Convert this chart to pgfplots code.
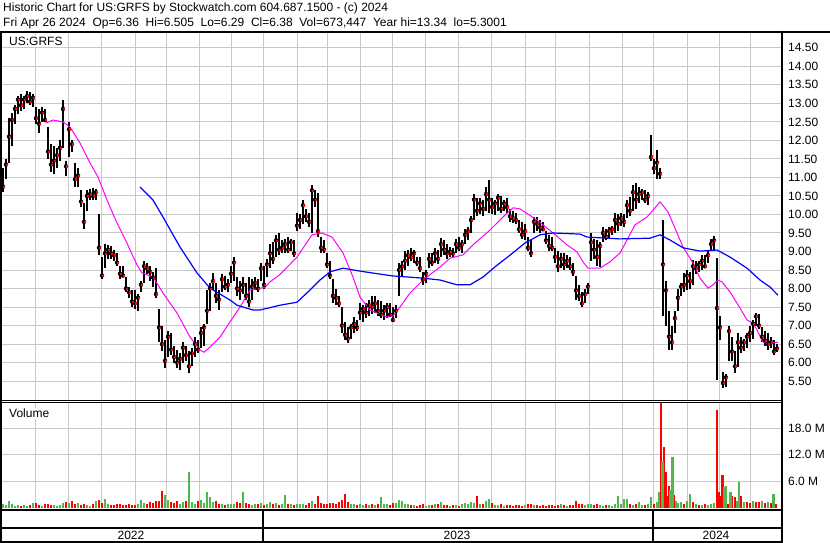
\documentclass[border=0pt]{standalone}
\usepackage{pgfplots}
\pgfplotsset{compat=1.18}
\usepackage{pgfplotstable}
\usepackage{fontspec}
\setmainfont{Liberation Sans}

\definecolor{gridgray}{RGB}{200,200,200}
\definecolor{volred}{RGB}{255,0,0}
\definecolor{volgreen}{RGB}{77,185,77}
\definecolor{mamag}{RGB}{255,0,255}
\definecolor{mablue}{RGB}{0,0,255}

% daily bars, sampled every 3 px of the chart: position, low, high, close
\pgfplotstableread{
x lo hi cl
3 10.60 11.25 10.75
6 10.95 11.50 11.35
9 11.40 12.60 12.10
12 11.85 12.75 12.55
15 12.45 12.95 12.85
18 12.70 13.20 13.10
21 12.80 13.25 12.95
24 12.85 13.20 13.10
27 13.00 13.34 13.20
30 12.95 13.30 13.05
33 12.90 13.25 13.15
36 12.45 12.90 12.60
39 12.20 12.85 12.45
42 12.50 12.90 12.75
45 12.50 12.85 12.55
48 11.50 12.35 11.70
51 11.15 11.90 11.35
54 11.10 11.85 11.45
57 11.25 11.80 11.60
60 11.45 12.00 11.80
63 11.80 13.10 12.85
66 11.05 11.45 11.30
69 11.55 12.50 12.30
72 11.70 12.00 11.90
75 10.75 11.40 10.95
78 10.75 11.25 11.05
81 10.20 10.65 10.35
84 9.60 10.30 9.80
87 10.10 10.65 10.50
90 10.40 10.70 10.55
93 10.40 10.72 10.50
96 10.40 10.70 10.60
99 8.90 10.00 9.10
102 8.25 8.85 8.35
105 8.55 9.20 8.95
108 8.80 9.18 9.05
111 8.80 9.15 8.95
114 8.75 9.05 8.90
117 8.60 8.95 8.70
120 8.25 8.60 8.40
123 8.30 8.60 8.35
126 7.90 8.30 8.00
129 7.75 8.05 7.90
132 7.50 7.95 7.65
135 7.45 7.95 7.60
138 7.40 7.85 7.75
141 7.90 8.20 8.10
144 8.15 8.75 8.60
147 8.40 8.70 8.55
150 8.20 8.60 8.45
153 8.05 8.45 8.30
156 7.75 8.55 7.85
159 6.55 7.45 6.95
162 6.30 7.00 6.50
165 5.85 6.60 6.05
168 6.15 6.85 6.70
171 6.20 6.80 6.35
174 6.00 6.45 6.15
177 5.85 6.35 6.00
180 5.80 6.25 6.10
183 6.00 6.55 6.40
186 6.05 6.45 6.20
189 5.72 6.30 5.90
192 5.90 6.40 6.25
195 6.15 6.70 6.50
198 6.25 6.60 6.35
201 6.40 6.95 6.80
204 6.45 7.05 6.95
207 7.05 7.95 7.40
210 7.40 8.15 8.00
213 7.95 8.42 8.20
216 7.60 8.15 7.80
219 7.42 7.95 7.70
222 7.90 8.40 8.25
225 7.95 8.35 8.05
228 7.90 8.25 8.10
231 8.15 8.60 8.40
234 8.20 8.85 8.70
237 7.80 8.30 8.00
240 7.70 8.20 7.95
243 7.85 8.30 8.10
246 7.70 8.15 7.80
249 7.50 8.30 7.65
252 7.70 8.25 8.05
255 7.95 8.30 8.15
258 7.90 8.25 8.00
261 8.20 8.70 8.55
264 8.00 8.60 8.10
267 8.30 8.80 8.65
270 8.55 9.20 8.95
273 8.65 9.25 8.80
276 8.85 9.45 9.30
279 8.90 9.50 9.05
282 8.95 9.30 9.10
285 8.95 9.35 9.20
288 8.95 9.40 9.05
291 9.00 9.35 9.25
294 8.85 9.30 8.95
297 9.55 10.05 9.70
300 9.60 10.00 9.85
303 9.75 10.40 10.25
306 9.80 10.15 9.95
309 9.65 10.05 9.80
312 9.50 10.80 10.65
315 10.20 10.65 10.40
318 9.40 10.58 9.55
321 8.95 9.40 9.10
324 8.95 9.30 9.05
327 8.55 8.95 8.65
330 8.25 8.75 8.35
333 7.60 8.25 7.80
336 7.55 8.00 7.75
339 7.50 7.80 7.60
342 6.80 7.50 7.00
345 6.60 7.10 6.75
348 6.53 6.95 6.65
351 6.65 7.05 6.95
354 6.80 7.23 7.05
357 6.85 7.15 6.95
360 7.15 7.60 7.35
363 7.10 7.55 7.45
366 7.20 7.60 7.35
369 7.25 7.70 7.55
372 7.30 7.80 7.50
375 7.35 7.80 7.60
378 7.25 7.70 7.40
381 7.20 7.65 7.30
384 7.15 7.55 7.40
387 7.20 7.60 7.50
390 7.25 7.60 7.30
393 7.10 7.50 7.15
396 7.20 7.55 7.40
399 7.80 8.70 8.50
402 8.30 8.75 8.60
405 8.50 9.00 8.75
408 8.60 9.05 8.90
411 8.75 9.10 8.85
414 8.70 9.05 8.95
417 8.60 8.85 8.70
420 8.45 8.85 8.55
423 8.10 8.45 8.25
426 8.15 8.50 8.40
429 8.55 8.95 8.80
432 8.60 8.95 8.70
435 8.70 9.10 8.95
438 8.65 9.05 8.80
441 8.85 9.36 9.20
444 8.90 9.30 9.05
447 8.80 9.20 8.95
450 8.85 9.12 9.00
453 8.85 9.10 8.95
456 8.95 9.35 9.20
459 9.00 9.40 9.10
462 8.96 9.30 9.20
465 9.20 9.60 9.45
468 9.30 9.66 9.55
471 9.50 9.95 9.85
474 9.85 10.55 10.40
477 9.95 10.45 10.10
480 10.00 10.45 10.30
483 9.95 10.40 10.15
486 10.10 10.75 10.55
489 10.05 10.93 10.40
492 10.00 10.45 10.20
495 9.98 10.40 10.30
498 10.10 10.55 10.45
501 10.05 10.50 10.15
504 10.10 10.40 10.30
507 10.05 10.45 10.20
510 9.80 10.15 9.95
513 9.78 10.10 9.90
516 9.75 10.05 9.85
519 9.50 9.85 9.60
522 9.35 9.80 9.45
525 9.30 9.75 9.55
528 9.00 9.40 9.10
531 8.85 9.30 8.95
534 9.50 9.93 9.80
537 9.55 9.93 9.75
540 9.50 9.85 9.65
543 9.55 9.80 9.60
546 9.20 9.55 9.30
549 9.00 9.45 9.15
552 9.00 9.40 9.10
555 8.70 9.10 8.85
558 8.45 9.00 8.60
561 8.55 8.95 8.80
564 8.50 8.96 8.65
567 8.55 8.90 8.75
570 8.50 8.85 8.60
573 8.35 8.70 8.45
576 7.70 8.35 7.95
579 7.65 8.10 7.80
582 7.50 7.90 7.60
585 7.60 8.00 7.85
588 7.85 8.15 8.05
591 8.75 9.50 9.25
594 8.80 9.35 9.05
597 8.60 9.30 8.85
600 8.58 9.25 9.15
603 9.25 9.65 9.50
606 9.30 9.60 9.40
609 9.35 9.66 9.55
612 9.45 9.70 9.60
615 9.50 10.04 9.85
618 9.55 10.00 9.75
621 9.70 10.04 9.90
624 9.66 10.00 9.80
627 9.90 10.40 10.25
630 9.95 10.47 10.10
633 10.10 10.80 10.60
636 10.15 10.85 10.40
639 10.30 10.75 10.55
642 10.40 10.70 10.60
645 10.30 10.65 10.40
648 10.25 10.60 10.50
651 11.45 12.15 11.55
654 11.10 11.50 11.25
657 10.95 11.75 11.40
660 10.95 11.25 11.10
663 7.25 9.85 8.65
666 7.00 8.20 7.95
669 6.35 7.40 6.70
672 6.34 7.00 6.55
675 6.80 7.40 7.20
678 7.40 8.00 7.75
681 7.80 8.15 8.05
684 7.90 8.42 8.10
687 7.95 8.50 8.35
690 8.00 8.45 8.20
693 8.10 8.77 8.60
696 8.40 8.75 8.55
699 8.45 8.75 8.65
702 8.50 8.90 8.75
705 8.55 8.90 8.60
708 8.70 9.00 8.90
711 9.00 9.35 9.20
714 9.05 9.42 9.30
717 5.52 8.82 7.47
720 6.60 7.25 6.95
723 5.31 5.75 5.45
726 5.35 5.70 5.60
729 6.05 7.00 6.85
732 6.05 6.70 6.30
735 5.72 6.30 5.90
738 5.88 6.80 6.55
741 6.25 6.70 6.40
744 6.30 6.65 6.55
747 6.40 6.80 6.70
750 6.55 7.00 6.80
753 6.65 7.15 7.05
756 7.00 7.34 7.25
759 6.90 7.30 7.00
762 6.55 6.96 6.70
765 6.45 6.85 6.60
768 6.35 6.80 6.50
771 6.40 6.70 6.55
774 6.20 6.60 6.30
777 6.29 6.50 6.38
}\price

% volume in millions, g=1 green (up), g=0 red (down)
\pgfplotstableread{
x v g
3 0.9 1
6 0.6 1
9 1.6 1
12 0.8 1
15 0.5 1
18 0.7 1
21 0.4 0
24 0.6 1
27 0.5 1
30 0.7 0
33 1.1 1
36 1.2 0
39 0.6 0
42 0.5 1
45 0.8 0
48 1.0 0
51 0.6 0
54 0.7 1
57 0.5 1
60 0.6 1
63 1.1 1
66 1.3 0
69 1.2 1
72 1.6 0
75 0.9 0
78 1.2 1
81 0.7 0
84 1.0 0
87 0.6 1
90 0.5 1
93 0.8 0
96 1.6 1
99 1.7 0
102 1.2 0
105 2.0 1
108 0.9 1
111 0.7 0
114 0.6 0
117 0.9 0
120 1.0 0
123 0.7 0
126 0.6 0
129 0.9 0
132 0.7 0
135 0.6 0
138 1.0 1
141 1.9 1
144 1.2 1
147 1.0 0
150 1.3 0
153 1.1 0
156 1.5 0
159 1.6 0
162 3.9 0
165 2.9 1
168 1.7 1
171 1.3 0
174 1.2 0
177 1.5 0
180 1.0 1
183 1.4 1
186 1.6 0
189 8.1 1
192 1.3 1
195 1.0 1
198 1.5 0
201 1.8 1
204 1.2 1
207 3.5 1
210 2.5 1
213 1.4 1
216 1.6 0
219 1.0 0
222 0.9 1
225 0.7 0
228 0.9 1
231 0.8 1
234 1.0 1
237 1.3 0
240 1.1 0
243 3.7 1
246 1.2 0
249 0.8 0
252 0.6 1
255 0.9 1
258 0.8 0
261 1.1 1
264 0.7 0
267 1.0 1
270 1.3 1
273 0.8 0
276 1.2 1
279 0.7 0
282 0.9 1
285 3.0 1
288 0.9 0
291 0.8 1
294 0.6 0
297 0.9 1
300 1.0 1
303 0.8 1
306 0.7 0
309 1.1 0
312 1.6 1
315 1.0 0
318 2.7 0
321 1.2 0
324 1.0 0
327 0.8 0
330 1.1 0
333 1.2 0
336 1.0 0
339 1.4 0
342 1.8 0
345 3.2 0
348 1.3 0
351 0.9 1
354 1.0 1
357 0.7 0
360 0.9 1
363 0.6 1
366 0.8 0
369 0.7 1
372 1.0 0
375 0.6 1
378 0.8 0
381 2.4 1
384 0.8 1
387 0.9 1
390 0.7 0
393 1.1 0
396 1.2 1
399 1.8 1
402 1.5 1
405 1.0 1
408 0.8 1
411 0.6 0
414 0.7 1
417 0.5 0
420 0.6 0
423 0.8 0
426 0.5 1
429 0.7 1
432 0.6 0
435 0.9 1
438 0.8 0
441 1.4 1
444 0.7 0
447 0.6 0
450 0.5 1
453 0.7 0
456 0.6 1
459 0.5 0
462 0.9 1
465 1.2 1
468 1.0 1
471 1.3 1
474 1.1 1
477 2.8 0
480 0.9 1
483 0.8 0
486 1.5 1
489 2.0 1
492 1.1 0
495 0.7 1
498 0.6 1
501 0.8 0
504 0.5 1
507 0.7 0
510 0.6 0
513 0.5 0
516 0.7 0
519 0.6 0
522 0.5 0
525 0.7 1
528 1.0 0
531 0.8 0
534 0.6 1
537 0.7 0
540 0.5 0
543 0.6 0
546 0.5 0
549 0.6 0
552 0.7 0
555 0.5 0
558 0.6 0
561 0.8 1
564 0.6 0
567 0.5 1
570 0.7 0
573 0.6 0
576 1.6 0
579 0.9 0
582 0.8 0
585 0.6 1
588 0.9 1
591 1.0 1
594 0.7 0
597 0.8 0
600 0.6 1
603 0.5 1
606 0.7 0
609 0.6 1
612 0.5 1
615 0.8 1
618 2.8 1
621 1.0 1
624 2.0 1
627 2.0 1
630 0.8 0
633 0.6 1
636 1.0 0
639 1.4 1
642 0.7 1
645 0.6 0
648 0.9 1
651 2.5 1
654 1.0 0
657 1.3 1
659 3.5 1
661 26 0
662.5 10.6 1
664 13.7 0
666 8.1 0
667.5 2.8 0
669 5.0 0
670.5 4.0 1
672.5 11.5 1
674 3.0 0
676 1.6 1
678 1.2 1
681 1.4 1
684 1.0 0
687 1.5 1
690 3.2 1
693 1.3 0
696 0.9 1
699 0.7 0
702 0.6 1
705 0.9 0
708 0.7 1
711 0.8 1
714 1.2 1
716.7 22.0 0
718.5 3.7 0
720.5 2.7 0
722.5 7.4 0
724.3 4.7 1
726 5.0 1
728 1.0 0
730.5 3.5 1
732.3 2.7 0
735 2.4 0
737 1.5 1
739.3 5.9 1
741 2.7 0
744 1.3 1
747 1.4 0
750 1.2 0
753 1.6 1
756 1.4 0
759 1.3 0
762 1.5 1
765 1.2 0
768 1.4 1
771 1.1 0
773.5 3.2 1
776 0.8 0
}\vol

\pgfplotsset{
  panel/.style={
    scale only axis, width=779pt,
    xmin=2, xmax=781,
    axis line style={draw=none},
    major tick length=0pt,
    xtick={36,68,101,135,166,199,231,263,297,327,360,392,425,458,491,525,555,589,622,653,687,719,750},
    xticklabels={},
    grid=major,
    major grid style={gridgray, line width=1pt},
    yticklabel pos=right,
    yticklabel style={anchor=west, inner sep=0pt, xshift=7pt},
    tick label style={font=\fontsize{12pt}{14pt}\selectfont},
    /pgf/number format/assume math mode=true,
    scaled y ticks=false,
  }
}

\begin{document}
\begin{tikzpicture}[font=\fontsize{12pt}{14pt}\selectfont]
\useasboundingbox (0,0) rectangle (830pt,-543pt);

% price panel
\begin{axis}[panel, at={(2pt,-400pt)}, anchor=south west, height=367pt,
  ymin=4.99, ymax=14.9,
  ytick={5.5,6,6.5,7,7.5,8,8.5,9,9.5,10,10.5,11,11.5,12,12.5,13,13.5,14,14.5},
  yticklabel style={/pgf/number format/fixed, /pgf/number format/fixed zerofill, /pgf/number format/precision=2}]
\addplot[only marks, mark=none, forget plot,
  error bars/.cd, y dir=both, y explicit, error mark=none,
  error bar style={black, line width=1.7pt}]
  table[x=x, y=cl, y error plus expr=\thisrow{hi}-\thisrow{cl}, y error minus expr=\thisrow{cl}-\thisrow{lo}] {\price};
\addplot[only marks, mark=square*, mark size=0.65pt, red, mark options={draw=none, xshift=0.9pt}] table[x=x, y=cl] {\price};
\addplot[mamag, line width=1pt] coordinates {
(46,12.47) (53,12.55) (63,12.50) (70,12.36) (80,11.93) (90,11.39) (98,11.01) (107,10.39) (117,9.77) (127,9.23) (130,9.04) (137,8.64) (142,8.42) (153,8.31) (163,7.88) (177,7.34) (190,6.69) (200,6.34) (204,6.28) (210,6.42) (220,6.69) (230,7.10) (240,7.50) (250,7.96) (260,8.01) (265,8.03) (270,8.18) (280,8.38) (297,8.85) (312,9.45) (322,9.50) (332,9.39) (343,8.96) (353,8.31) (360,7.77) (370,7.42) (387,7.23) (393,7.26) (400,7.50) (410,7.88) (423,8.23) (440,8.58) (450,8.82) (463,8.91) (473,9.18) (490,9.58) (503,9.93) (513,10.18) (520,10.15) (537,9.85) (553,9.50) (567,9.18) (577,8.99) (583,8.72) (588,8.55) (600,8.55) (610,8.72) (620,8.96) (627,9.31) (635,9.72) (647,9.93) (655,10.18) (660,10.34) (668,10.07) (677,9.50) (683,9.12) (693,8.69) (700,8.28) (708,8.01) (713,8.10) (718,8.23) (722,8.18) (730,7.91) (740,7.47) (747,7.15) (753,7.07) (757,6.88) (763,6.55) (770,6.53) (778,6.55)
};
\addplot[mablue, line width=1.2pt] coordinates {
(140,10.74) (153,10.39) (163,9.93) (180,9.12) (197,8.42) (210,8.01) (230,7.69) (237,7.55) (253,7.42) (260,7.42) (280,7.55) (297,7.63) (310,7.96) (320,8.23) (330,8.45) (343,8.55) (360,8.47) (380,8.39) (393,8.34) (423,8.28) (440,8.23) (457,8.10) (470,8.10) (483,8.31) (497,8.63) (510,8.90) (525,9.23) (540,9.45) (553,9.50) (580,9.47) (587,9.39) (620,9.34) (650,9.36) (660,9.45) (670,9.31) (683,9.10) (700,9.01) (717,9.04) (730,8.85) (747,8.55) (760,8.23) (770,8.04) (778,7.82)
};
\end{axis}

% volume panel
\begin{axis}[panel, at={(2pt,-508pt)}, anchor=south west, height=106pt,
  ymin=0, ymax=23.85,
  ytick={6,12,18}, yticklabels={6.0 M,12.0 M,18.0 M}]
\addplot[ycomb, volred, line width=2.2pt] table[x=x, y expr={(1-\thisrow{g})*\thisrow{v}}] {\vol};
\addplot[ycomb, volgreen, line width=2.2pt] table[x=x, y expr={\thisrow{g}*\thisrow{v}}] {\vol};
\end{axis}

% labels inside panels
\node[anchor=base west, fill=white, inner sep=1pt] at (8pt,-45.5pt) {US:GRFS};
\node[anchor=base west, fill=white, inner sep=1pt] at (8pt,-417.5pt) {Volume};

% header
\node[anchor=base west, inner sep=0pt] at (3pt,-12pt) {Historic Chart for US:GRFS by Stockwatch.com 604.687.1500 - (c) 2024};
\node[anchor=base west, inner sep=0pt] at (3pt,-27pt) {Fri Apr 26 2024\ \ Op=6.36\ \ Hi=6.505\ \ Lo=6.29\ \ Cl=6.38\ \ Vol=673,447\ \ Year hi=13.34\ \ lo=5.3001};

% frames
\draw[line width=2.5pt] (0,-32pt) -- (830pt,-32pt);
\draw[line width=2pt] (1pt,-31pt) -- (1pt,-542.5pt);
\draw[line width=2pt] (781.7pt,-31pt) -- (781.7pt,-542.5pt);
\draw[line width=1pt] (0,-400pt) -- (782pt,-400pt);
\draw[line width=1pt] (0,-402.5pt) -- (782pt,-402.5pt);
\draw[line width=2pt] (0,-510pt) -- (782pt,-510pt);
\draw[line width=2pt] (0,-527.5pt) -- (782pt,-527.5pt);
\draw[line width=2pt] (0,-541.5pt) -- (782pt,-541.5pt);
\draw[line width=1.5pt] (263pt,-510pt) -- (263pt,-541.5pt);
\draw[line width=1.5pt] (653pt,-510pt) -- (653pt,-541.5pt);

% year row
\node[anchor=base] at (131pt,-539pt) {2022};
\node[anchor=base] at (457pt,-539pt) {2023};
\node[anchor=base] at (716pt,-539pt) {2024};
\end{tikzpicture}
\end{document}
